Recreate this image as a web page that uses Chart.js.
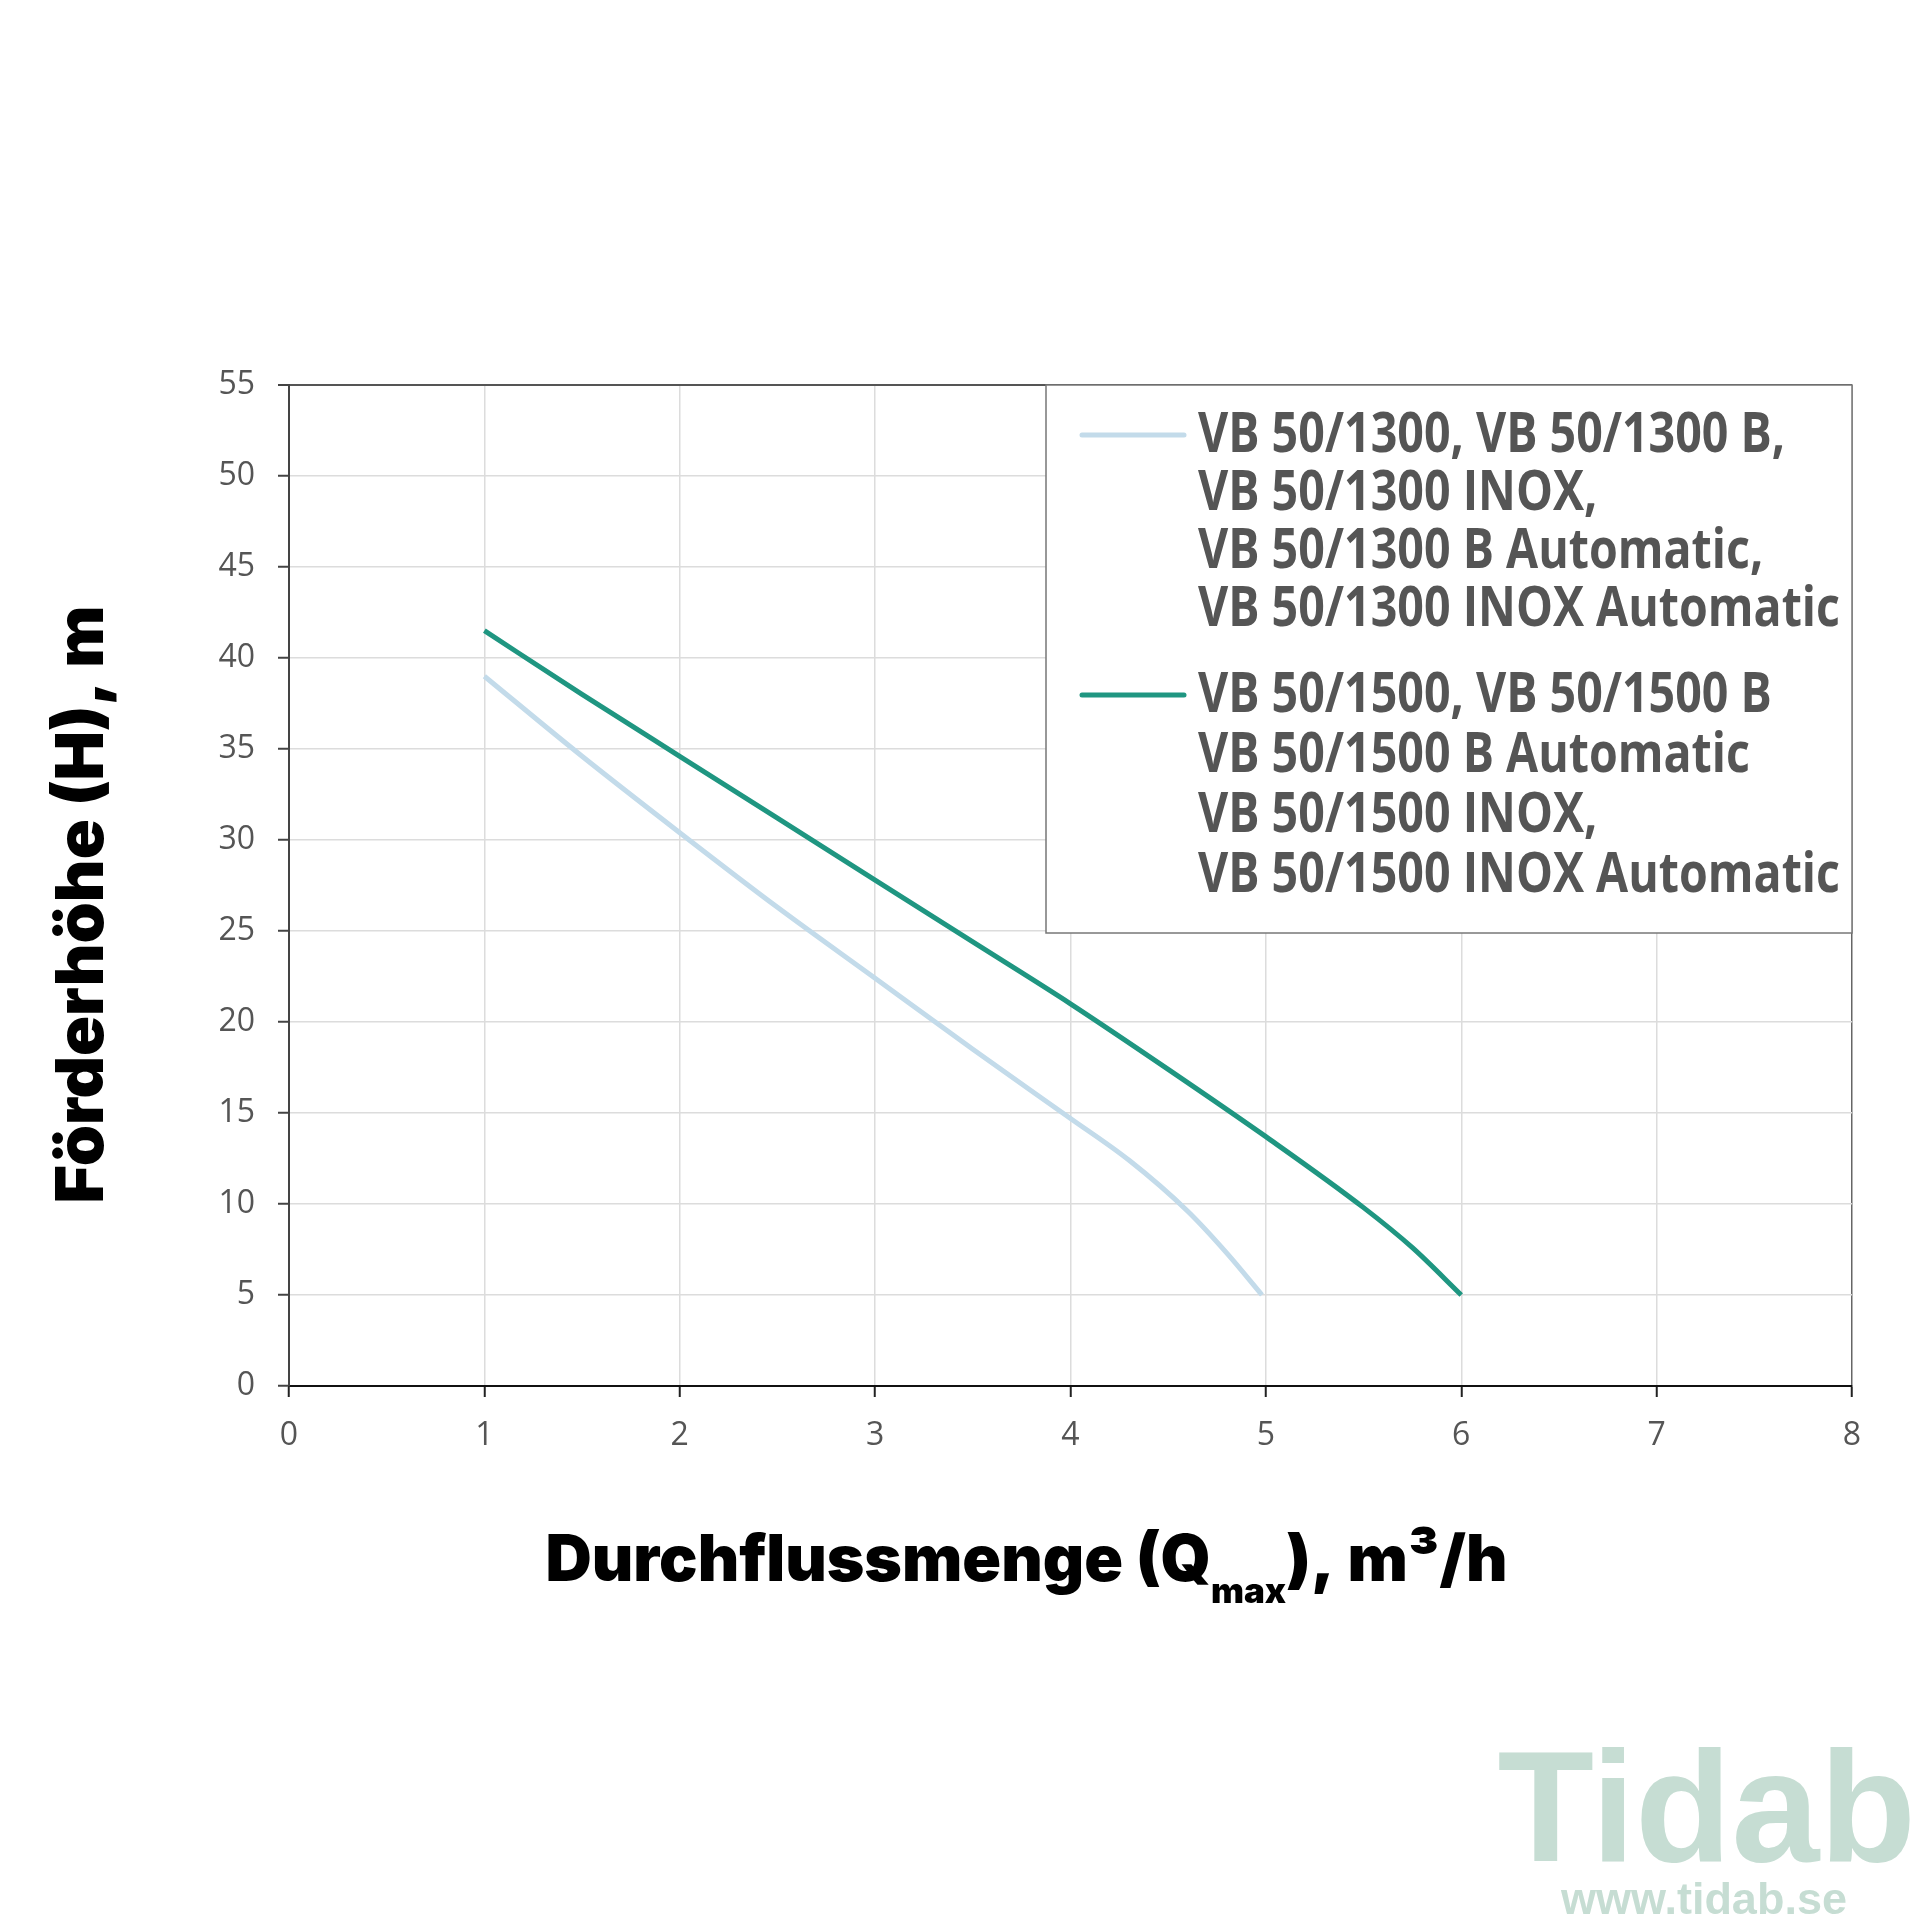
<!DOCTYPE html>
<html>
<head>
<meta charset="utf-8">
<script src="https://cdn.jsdelivr.net/npm/chart.js@4.4.1/dist/chart.umd.min.js"></script>
<style>
  html, body { margin: 0; padding: 0; background: #fff; }
  #chart { display: block; }
</style>
</head>
<body>
<canvas id="chart" width="1920" height="1920"></canvas>
<script>
// flow (m3/h) and head (m)
const flow1300 = [1, 1.5, 2, 2.5, 3, 3.5, 4, 4.3, 4.6, 4.8, 4.98];
const head1300 = [39.0, 34.6, 30.4, 26.3, 22.4, 18.5, 14.7, 12.4, 9.6, 7.3, 5.0];

const flow1500 = [1, 1.5, 2, 2.5, 3, 3.5, 4, 4.5, 5, 5.5, 5.75, 6];
const head1500 = [41.5, 38.0, 34.6, 31.2, 27.8, 24.4, 21.0, 17.4, 13.7, 9.8, 7.6, 5.0];

const xTicks = [0, 1, 2, 3, 4, 5, 6, 7, 8];
const yTicks = [0, 5, 10, 15, 20, 25, 30, 35, 40, 45, 50, 55];

const legend1300 = ['VB 50/1300, VB 50/1300 B,', 'VB 50/1300 INOX,', 'VB 50/1300 B Automatic,', 'VB 50/1300 INOX Automatic'];
const legend1500 = ['VB 50/1500, VB 50/1500 B', 'VB 50/1500 B Automatic', 'VB 50/1500 INOX,', 'VB 50/1500 INOX Automatic'];

const yTitle = 'Förderhöhe (H), m';
const xTitleParts = ['Durchflussmenge (Q', 'max', '), m³/h'];

const colors = ['#c3dbea', '#1f9681'];

const toPoints = (xs, ys) => xs.map((x, i) => ({ x: x, y: ys[i] }));

const TITLE_FONT = '900 64px Inter, Lato, sans-serif';
const Y_TITLE_FONT = '900 66px Inter, Lato, sans-serif';
const SUB_FONT = '900 35px Inter, Lato, sans-serif';
const LEGEND_FONT = 'bold 56px "Open Sans", sans-serif';
const LEGEND_WIDTH = 642; // widest legend line in the reference

// titles, multi-line legend and watermark drawn on top of the chart
const extras = {
    id: 'extras',
    afterDraw(chart) {
        const ctx = chart.ctx;
        const area = chart.chartArea;
        ctx.save();

        // y title
        ctx.fillStyle = '#000';
        ctx.font = Y_TITLE_FONT;
        ctx.textAlign = 'center';
        ctx.textBaseline = 'alphabetic';
        ctx.translate(area.left - 186, (area.top + area.bottom) / 2 + 19);
        ctx.rotate(-Math.PI / 2);
        ctx.fillText(yTitle, 0, 0);
        ctx.setTransform(1, 0, 0, 1, 0, 0);

        // x title with subscript
        ctx.textAlign = 'left';
        ctx.font = TITLE_FONT;
        const w1 = ctx.measureText(xTitleParts[0]).width;
        const w3 = ctx.measureText(xTitleParts[2]).width;
        ctx.font = SUB_FONT;
        const w2 = ctx.measureText(xTitleParts[1]).width;
        const base = area.bottom + 195;
        let x = (area.left + area.right) / 2 - 44 - (w1 + w2 + w3) / 2;
        ctx.font = TITLE_FONT;
        ctx.fillText(xTitleParts[0], x, base);
        x += w1;
        ctx.font = SUB_FONT;
        ctx.fillText(xTitleParts[1], x, base + 22);
        x += w2;
        ctx.font = TITLE_FONT;
        ctx.fillText(xTitleParts[2], x, base);

        // legend box
        const boxL = area.right - 806, boxT = area.top, boxR = area.right, boxB = area.top + 548;
        ctx.fillStyle = '#fff';
        ctx.fillRect(boxL, boxT, boxR - boxL, boxB - boxT);
        ctx.strokeStyle = '#777';
        ctx.lineWidth = 1.5;
        ctx.strokeRect(boxL, boxT, boxR - boxL, boxB - boxT);

        const groups = [legend1300, legend1500];
        const starts = [50, 310];
        const step = [58, 60];
        ctx.font = LEGEND_FONT;
        ctx.textBaseline = 'middle';
        // no condensed face installed: squeeze the bold face horizontally
        const widest = Math.max(...legend1300.concat(legend1500).map(t => ctx.measureText(t).width));
        const sx = Math.min(1, LEGEND_WIDTH / widest);
        groups.forEach((lines, g) => {
            const y0 = boxT + starts[g];
            ctx.strokeStyle = chart.data.datasets[g].borderColor;
            ctx.lineWidth = 5;
            ctx.lineCap = 'round';
            ctx.beginPath();
            ctx.moveTo(boxL + 36, y0);
            ctx.lineTo(boxL + 138, y0);
            ctx.stroke();
            ctx.fillStyle = '#555';
            lines.forEach((t, i) => {
                ctx.save();
                ctx.translate(boxL + 152, y0 + 1 + i * step[g]);
                ctx.scale(sx, 1);
                ctx.fillText(t, 0, 0);
                ctx.restore();
            });
        });

        // watermark
        ctx.fillStyle = '#c6ddd3';
        ctx.textBaseline = 'alphabetic';
        ctx.textAlign = 'right';
        ctx.font = 'bold 158px "Liberation Sans", Arial, sans-serif';
        ctx.fillText('Tidab', 1916, 1861);
        ctx.textAlign = 'center';
        ctx.font = 'bold 45px "Liberation Sans", Arial, sans-serif';
        ctx.fillText('www.tidab.se', 1704, 1914);

        ctx.restore();
    }
};

new Chart(document.getElementById('chart').getContext('2d'), {
    type: 'line',
    data: {
        datasets: [{
            label: legend1300.join(' '),
            data: toPoints(flow1300, head1300),
            borderColor: colors[0],
            borderWidth: 5,
            pointRadius: 0,
            cubicInterpolationMode: 'monotone',
            fill: false
        }, {
            label: legend1500.join(' '),
            data: toPoints(flow1500, head1500),
            borderColor: colors[1],
            borderWidth: 5,
            pointRadius: 0,
            cubicInterpolationMode: 'monotone',
            fill: false
        }]
    },
    options: {
        responsive: false,
        animation: false,
        devicePixelRatio: 1,
        layout: { padding: { left: 0, top: 385, right: 68, bottom: 0 } },
        scales: {
            x: {
                type: 'linear',
                min: xTicks[0],
                max: xTicks[xTicks.length - 1],
                afterBuildTicks: (scale) => { scale.ticks = xTicks.map(v => ({ value: v })); },
                afterFit: (scale) => { scale.height = 534; },
                border: { color: '#111', width: 2 },
                grid: {
                    color: (c) => c.tick && c.tick.value === 8 ? '#666' : '#dcdcdc',
                    lineWidth: 1.5,
                    tickLength: 11,
                    tickColor: '#222',
                    tickWidth: 2
                },
                ticks: {
                    color: '#555',
                    padding: 20,
                    font: { family: '"Open Sans", sans-serif', size: 32 }
                }
            },
            y: {
                min: yTicks[0],
                max: yTicks[yTicks.length - 1],
                afterBuildTicks: (scale) => { scale.ticks = yTicks.map(v => ({ value: v })); },
                afterFit: (scale) => { scale.width = 289; },
                border: { color: '#444', width: 2 },
                grid: {
                    color: (c) => c.tick && c.tick.value === 55 ? '#555' : '#dcdcdc',
                    lineWidth: (c) => c.tick && c.tick.value === 55 ? 2 : 1.5,
                    tickLength: 11,
                    tickColor: '#444',
                    tickWidth: 2
                },
                ticks: {
                    color: '#555',
                    padding: 23,
                    font: { family: '"Open Sans", sans-serif', size: 32 }
                }
            }
        },
        plugins: {
            legend: { display: false },
            tooltip: { enabled: false }
        }
    },
    plugins: [extras]
});
</script>
</body>
</html>
